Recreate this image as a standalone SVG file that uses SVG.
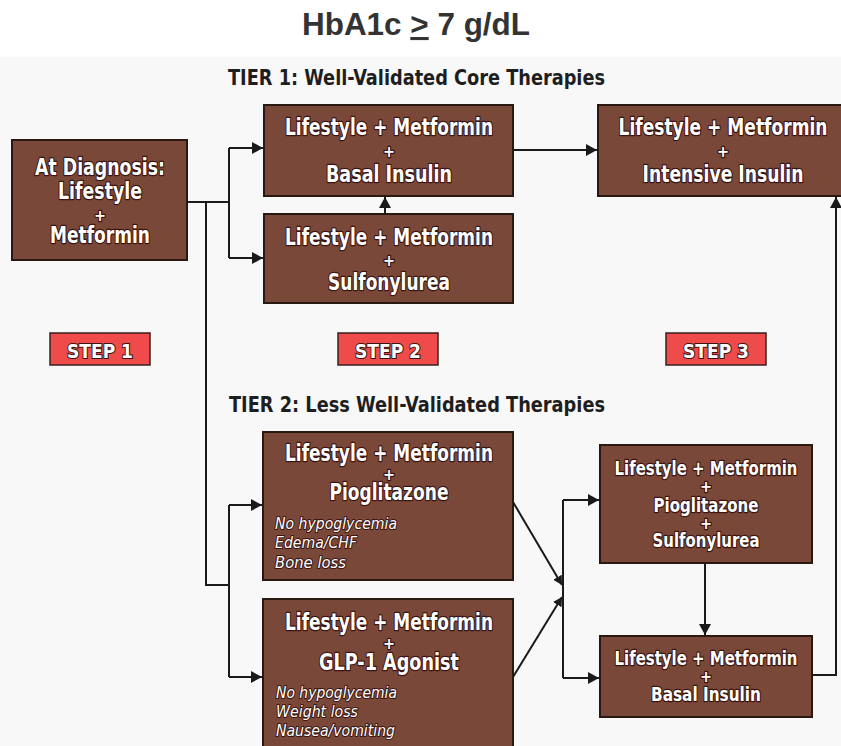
<svg xmlns="http://www.w3.org/2000/svg" width="841" height="746" viewBox="0 0 841 746">
  <defs>
    <marker id="arrow" markerUnits="userSpaceOnUse" markerWidth="12" markerHeight="12" refX="11" refY="6" orient="auto">
      <path d="M0,0 L11,6 L0,12 z" fill="#1a1a1a"/>
    </marker>
    <marker id="arrow-sm" markerUnits="userSpaceOnUse" markerWidth="10" markerHeight="10" refX="9" refY="5" orient="auto">
      <path d="M0,0 L9,5 L0,10 z" fill="#1a1a1a"/>
    </marker>
    <style>
      .box { fill: #7a4838; stroke: #2a1812; stroke-width: 2; }
      .step { fill: #f04b4b; stroke: #3a2020; stroke-width: 1.5; }
      .bt { font-family: "DejaVu Sans Condensed", "Liberation Sans Narrow", "Liberation Sans", sans-serif; font-weight: bold; fill: #ffffff; stroke: #3a1410; stroke-width: 2.4; paint-order: stroke; stroke-linejoin: round; text-anchor: middle; }
      .big { font-size: 23px; }
      .mid { font-size: 20px; }
      .plus { font-size: 16px; }
      .note { font-family: "DejaVu Sans Condensed", "Liberation Sans", sans-serif; font-style: italic; font-size: 16px; fill: #ffffff; stroke: #3a1410; stroke-width: 2; paint-order: stroke; stroke-linejoin: round; }
      .tier { font-family: "DejaVu Sans Condensed", "Liberation Sans", sans-serif; font-weight: bold; font-size: 22px; fill: #1e1e1e; }
      .st { font-family: "DejaVu Sans Condensed", "Liberation Sans", sans-serif; font-weight: bold; font-size: 20px; fill: #ffffff; stroke: #3a1410; stroke-width: 2; paint-order: stroke; text-anchor: middle; }
      .wire { fill: none; stroke: #1a1a1a; stroke-width: 2; }
    </style>
  </defs>

  <!-- page background -->
  <rect x="0" y="0" width="841" height="746" fill="#ffffff"/>
  <rect x="0" y="57" width="841" height="689" fill="#f8f8f8"/>

  <!-- heading -->
  <text x="416" y="35" text-anchor="middle" font-family="Liberation Sans, Arial, sans-serif" font-weight="bold" font-size="31" fill="#333333" textLength="228" lengthAdjust="spacingAndGlyphs">HbA1c <tspan style="text-decoration: underline">&gt;</tspan> 7 g/dL</text>

  <!-- tier headings -->
  <text class="tier" x="228" y="85" textLength="377" lengthAdjust="spacingAndGlyphs">TIER 1: Well-Validated Core Therapies</text>
  <text class="tier" x="229" y="412" textLength="376" lengthAdjust="spacingAndGlyphs">TIER 2: Less Well-Validated Therapies</text>

  <!-- connectors -->
  <g id="connectors">
    <!-- diagnosis to tier 1 -->
    <path class="wire" d="M187,202 H229"/>
    <path class="wire" d="M229,148 V258"/>
    <path class="wire" d="M229,148 H263" marker-end="url(#arrow)"/>
    <path class="wire" d="M229,258 H263" marker-end="url(#arrow)"/>
    <!-- diagnosis to tier 2 -->
    <path class="wire" d="M206,202 V585 H229"/>
    <path class="wire" d="M229,505 V677"/>
    <path class="wire" d="M229,505 H262" marker-end="url(#arrow)"/>
    <path class="wire" d="M229,677 H262" marker-end="url(#arrow)"/>
    <!-- sulfonylurea to basal insulin -->
    <path class="wire" d="M385,214 V197" marker-end="url(#arrow)"/>
    <!-- basal insulin to intensive insulin -->
    <path class="wire" d="M513,150 H597" marker-end="url(#arrow)"/>
    <!-- tier 2 convergence -->
    <path class="wire" d="M513,502 L562,585" marker-end="url(#arrow-sm)"/>
    <path class="wire" d="M513,677 L562,597" marker-end="url(#arrow-sm)"/>
    <path class="wire" d="M563,500 V678"/>
    <path class="wire" d="M563,500 H599" marker-end="url(#arrow)"/>
    <path class="wire" d="M563,678 H599" marker-end="url(#arrow)"/>
    <!-- triple therapy to basal insulin -->
    <path class="wire" d="M705,563 V635" marker-end="url(#arrow)"/>
    <!-- basal insulin up to intensive insulin -->
    <path class="wire" d="M812,675 H836 V197" marker-end="url(#arrow)"/>
  </g>

  <!-- step 1 -->
  <g id="diagnosis">
    <rect class="box" x="12" y="140" width="175" height="120"/>
    <text class="bt big" x="100" y="175" textLength="130" lengthAdjust="spacingAndGlyphs">At Diagnosis:</text>
    <text class="bt big" x="100" y="199" textLength="84" lengthAdjust="spacingAndGlyphs">Lifestyle</text>
    <text class="bt plus" x="100" y="221">+</text>
    <text class="bt big" x="100" y="243" textLength="100" lengthAdjust="spacingAndGlyphs">Metformin</text>
  </g>

  <g id="t1-basal">
    <rect class="box" x="264" y="105" width="249" height="91"/>
    <text class="bt big" x="389" y="135" textLength="208" lengthAdjust="spacingAndGlyphs">Lifestyle + Metformin</text>
    <text class="bt plus" x="389" y="157">+</text>
    <text class="bt big" x="389" y="182" textLength="126" lengthAdjust="spacingAndGlyphs">Basal Insulin</text>
  </g>

  <g id="t1-sulfonylurea">
    <rect class="box" x="264" y="214" width="249" height="89"/>
    <text class="bt big" x="389" y="245" textLength="208" lengthAdjust="spacingAndGlyphs">Lifestyle + Metformin</text>
    <text class="bt plus" x="389" y="266">+</text>
    <text class="bt big" x="389" y="290" textLength="122" lengthAdjust="spacingAndGlyphs">Sulfonylurea</text>
  </g>

  <g id="t1-intensive">
    <rect class="box" x="598" y="105" width="246" height="91"/>
    <text class="bt big" x="723" y="135" textLength="209" lengthAdjust="spacingAndGlyphs">Lifestyle + Metformin</text>
    <text class="bt plus" x="723" y="157">+</text>
    <text class="bt big" x="723" y="182" textLength="161" lengthAdjust="spacingAndGlyphs">Intensive Insulin</text>
  </g>

  <!-- step labels -->
  <g id="step1">
    <rect class="step" x="50" y="333" width="100" height="32"/>
    <text class="st" x="100" y="358" textLength="66" lengthAdjust="spacingAndGlyphs">STEP 1</text>
  </g>
  <g id="step2">
    <rect class="step" x="338" y="333" width="100" height="32"/>
    <text class="st" x="388" y="358" textLength="66" lengthAdjust="spacingAndGlyphs">STEP 2</text>
  </g>
  <g id="step3">
    <rect class="step" x="666" y="333" width="100" height="32"/>
    <text class="st" x="716" y="358" textLength="66" lengthAdjust="spacingAndGlyphs">STEP 3</text>
  </g>

  <!-- tier 2 -->
  <g id="t2-pioglitazone">
    <rect class="box" x="263" y="432" width="250" height="148"/>
    <text class="bt big" x="389" y="461" textLength="208" lengthAdjust="spacingAndGlyphs">Lifestyle + Metformin</text>
    <text class="bt plus" x="389" y="480">+</text>
    <text class="bt big" x="389" y="500" textLength="119" lengthAdjust="spacingAndGlyphs">Pioglitazone</text>
    <text class="note" x="275" y="529" textLength="122" lengthAdjust="spacingAndGlyphs">No hypoglycemia</text>
    <text class="note" x="275" y="548" textLength="82" lengthAdjust="spacingAndGlyphs">Edema/CHF</text>
    <text class="note" x="275" y="568" textLength="71" lengthAdjust="spacingAndGlyphs">Bone loss</text>
  </g>

  <g id="t2-glp1">
    <rect class="box" x="263" y="599" width="250" height="160"/>
    <text class="bt big" x="389" y="630" textLength="208" lengthAdjust="spacingAndGlyphs">Lifestyle + Metformin</text>
    <text class="bt plus" x="389" y="649">+</text>
    <text class="bt big" x="389" y="670" textLength="140" lengthAdjust="spacingAndGlyphs">GLP-1 Agonist</text>
    <text class="note" x="276" y="698" textLength="121" lengthAdjust="spacingAndGlyphs">No hypoglycemia</text>
    <text class="note" x="276" y="717" textLength="82" lengthAdjust="spacingAndGlyphs">Weight loss</text>
    <text class="note" x="276" y="736" textLength="119" lengthAdjust="spacingAndGlyphs">Nausea/vomiting</text>
  </g>

  <g id="t2-triple">
    <rect class="box" x="600" y="445" width="212" height="118"/>
    <text class="bt mid" x="706" y="475" textLength="183" lengthAdjust="spacingAndGlyphs">Lifestyle + Metformin</text>
    <text class="bt plus" x="706" y="492">+</text>
    <text class="bt mid" x="706" y="512" textLength="105" lengthAdjust="spacingAndGlyphs">Pioglitazone</text>
    <text class="bt plus" x="706" y="529">+</text>
    <text class="bt mid" x="706" y="547" textLength="107" lengthAdjust="spacingAndGlyphs">Sulfonylurea</text>
  </g>

  <g id="t2-basal">
    <rect class="box" x="600" y="636" width="212" height="81"/>
    <text class="bt mid" x="706" y="665" textLength="183" lengthAdjust="spacingAndGlyphs">Lifestyle + Metformin</text>
    <text class="bt plus" x="706" y="682">+</text>
    <text class="bt mid" x="706" y="701" textLength="110" lengthAdjust="spacingAndGlyphs">Basal Insulin</text>
  </g>
</svg>
